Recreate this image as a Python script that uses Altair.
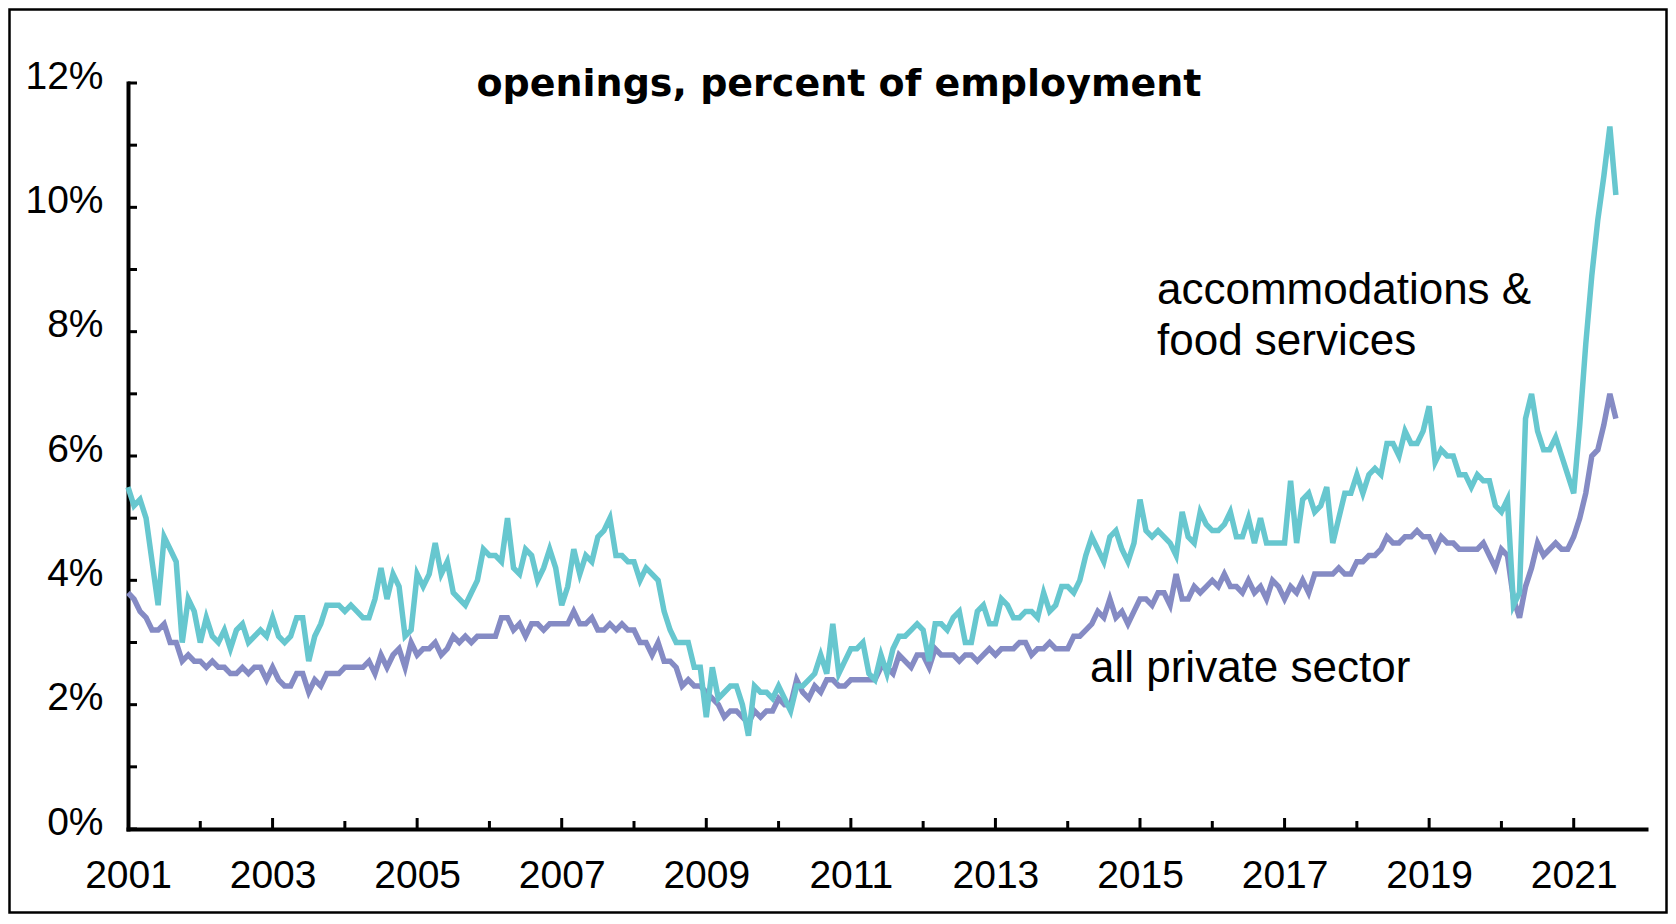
import altair as alt
import pandas as pd

# monthly openings rate, Jan 2001 .. Aug 2021 (percent of employment)
start_year = 2001

accommodation_food = [
    5.5, 5.2, 5.3, 5.0, 4.3, 3.6, 4.7, 4.5, 4.3, 3.0, 3.7, 3.5,  # 2001
    3.0, 3.4, 3.1, 3.0, 3.2, 2.9, 3.2, 3.3, 3.0, 3.1, 3.2, 3.1,  # 2002
    3.4, 3.1, 3.0, 3.1, 3.4, 3.4, 2.7, 3.1, 3.3, 3.6, 3.6, 3.6,  # 2003
    3.5, 3.6, 3.5, 3.4, 3.4, 3.7, 4.2, 3.7, 4.1, 3.9, 3.1, 3.2,  # 2004
    4.1, 3.9, 4.1, 4.6, 4.1, 4.3, 3.8, 3.7, 3.6, 3.8, 4.0, 4.5,  # 2005
    4.4, 4.4, 4.3, 5.0, 4.2, 4.1, 4.5, 4.4, 4.0, 4.2, 4.5, 4.2,  # 2006
    3.6, 3.9, 4.5, 4.1, 4.4, 4.3, 4.7, 4.8, 5.0, 4.4, 4.4, 4.3,  # 2007
    4.3, 4.0, 4.2, 4.1, 4.0, 3.5, 3.2, 3.0, 3.0, 3.0, 2.6, 2.6,  # 2008
    1.8, 2.6, 2.1, 2.2, 2.3, 2.3, 2.0, 1.5, 2.3, 2.2, 2.2, 2.1,  # 2009
    2.3, 2.1, 1.9, 2.3, 2.3, 2.4, 2.5, 2.8, 2.5, 3.3, 2.5, 2.7,  # 2010
    2.9, 2.9, 3.0, 2.5, 2.4, 2.8, 2.5, 2.9, 3.1, 3.1, 3.2, 3.3,  # 2011
    3.2, 2.7, 3.3, 3.3, 3.2, 3.4, 3.5, 3.0, 3.0, 3.5, 3.6, 3.3,  # 2012
    3.3, 3.7, 3.6, 3.4, 3.4, 3.5, 3.5, 3.4, 3.8, 3.5, 3.6, 3.9,  # 2013
    3.9, 3.8, 4.0, 4.4, 4.7, 4.5, 4.3, 4.7, 4.8, 4.5, 4.3, 4.6,  # 2014
    5.3, 4.8, 4.7, 4.8, 4.7, 4.6, 4.4, 5.1, 4.7, 4.6, 5.1, 4.9,  # 2015
    4.8, 4.8, 4.9, 5.1, 4.7, 4.7, 5.0, 4.6, 5.0, 4.6, 4.6, 4.6,  # 2016
    4.6, 5.6, 4.6, 5.3, 5.4, 5.1, 5.2, 5.5, 4.6, 5.0, 5.4, 5.4,  # 2017
    5.7, 5.4, 5.7, 5.8, 5.7, 6.2, 6.2, 6.0, 6.4, 6.2, 6.2, 6.4,  # 2018
    6.8, 5.9, 6.1, 6.0, 6.0, 5.7, 5.7, 5.5, 5.7, 5.6, 5.6, 5.2,  # 2019
    5.1, 5.3, 3.6, 3.8, 6.6, 7.0, 6.4, 6.1, 6.1, 6.3, 6.0, 5.7,  # 2020
    5.4, 6.5, 7.8, 8.9, 9.8, 10.5, 11.3, 10.2,                   # 2021
]

private_sector = [
    3.8, 3.7, 3.5, 3.4, 3.2, 3.2, 3.3, 3.0, 3.0, 2.7, 2.8, 2.7,  # 2001
    2.7, 2.6, 2.7, 2.6, 2.6, 2.5, 2.5, 2.6, 2.5, 2.6, 2.6, 2.4,  # 2002
    2.6, 2.4, 2.3, 2.3, 2.5, 2.5, 2.2, 2.4, 2.3, 2.5, 2.5, 2.5,  # 2003
    2.6, 2.6, 2.6, 2.6, 2.7, 2.5, 2.8, 2.6, 2.8, 2.9, 2.6, 3.0,  # 2004
    2.8, 2.9, 2.9, 3.0, 2.8, 2.9, 3.1, 3.0, 3.1, 3.0, 3.1, 3.1,  # 2005
    3.1, 3.1, 3.4, 3.4, 3.2, 3.3, 3.1, 3.3, 3.3, 3.2, 3.3, 3.3,  # 2006
    3.3, 3.3, 3.5, 3.3, 3.3, 3.4, 3.2, 3.2, 3.3, 3.2, 3.3, 3.2,  # 2007
    3.2, 3.0, 3.0, 2.8, 3.0, 2.7, 2.7, 2.6, 2.3, 2.4, 2.3, 2.3,  # 2008
    2.2, 2.1, 2.0, 1.8, 1.9, 1.9, 1.8, 1.7, 1.9, 1.8, 1.9, 1.9,  # 2009
    2.1, 2.0, 2.0, 2.4, 2.2, 2.1, 2.3, 2.2, 2.4, 2.4, 2.3, 2.3,  # 2010
    2.4, 2.4, 2.4, 2.4, 2.4, 2.6, 2.6, 2.5, 2.8, 2.7, 2.6, 2.8,  # 2011
    2.8, 2.6, 2.9, 2.8, 2.8, 2.8, 2.7, 2.8, 2.8, 2.7, 2.8, 2.9,  # 2012
    2.8, 2.9, 2.9, 2.9, 3.0, 3.0, 2.8, 2.9, 2.9, 3.0, 2.9, 2.9,  # 2013
    2.9, 3.1, 3.1, 3.2, 3.3, 3.5, 3.4, 3.7, 3.4, 3.5, 3.3, 3.5,  # 2014
    3.7, 3.7, 3.6, 3.8, 3.8, 3.6, 4.1, 3.7, 3.7, 3.9, 3.8, 3.9,  # 2015
    4.0, 3.9, 4.1, 3.9, 3.9, 3.8, 4.0, 3.8, 3.9, 3.7, 4.0, 3.9,  # 2016
    3.7, 3.9, 3.8, 4.0, 3.8, 4.1, 4.1, 4.1, 4.1, 4.2, 4.1, 4.1,  # 2017
    4.3, 4.3, 4.4, 4.4, 4.5, 4.7, 4.6, 4.6, 4.7, 4.7, 4.8, 4.7,  # 2018
    4.7, 4.5, 4.7, 4.6, 4.6, 4.5, 4.5, 4.5, 4.5, 4.6, 4.4, 4.2,  # 2019
    4.5, 4.4, 3.7, 3.4, 3.9, 4.2, 4.6, 4.4, 4.5, 4.6, 4.5, 4.5,  # 2020
    4.7, 5.0, 5.4, 6.0, 6.1, 6.5, 7.0, 6.6,                      # 2021
]

year_labels = list(range(2001, 2022, 2))
major_year_ticks = list(range(2003, 2022, 2))
minor_year_ticks = list(range(2002, 2022, 2))
pct_labels = list(range(0, 13, 2))
pct_ticks = list(range(0, 13))

title_text = "openings, percent of employment"
label_acc = ["accommodations &", "food services"]
label_private = "all private sector"

TEAL = "#67c7cf"
PURPLE = "#858bc4"
W, H = 1518, 746

months = [start_year + i / 12 for i in range(len(private_sector))]
df_private = pd.DataFrame({"t": months, "v": private_sector})
df_acc = pd.DataFrame({"t": months, "v": accommodation_food})
one = pd.DataFrame({"k": [0]})

x_scale = alt.Scale(domain=[2001, 2022], nice=False, zero=False)
y_scale = alt.Scale(domain=[0, 12], nice=False)

x_axis = alt.Axis(
    values=year_labels, format="d", title=None, grid=False, ticks=False,
    domainColor="black", domainWidth=4, domainCap="square",
    labelFont="Liberation Sans", labelFontSize=39, labelColor="black",
    labelBaseline="alphabetic", labelPadding=58, labelFlush=False, labelOverlap=False,
)
y_axis = alt.Axis(
    values=pct_labels, labelExpr="datum.value + '%'", title=None, grid=False, ticks=False,
    domainColor="black", domainWidth=4, domainCap="square",
    labelFont="Liberation Sans", labelFontSize=39, labelColor="black",
    labelBaseline="alphabetic", labelAlign="right", labelPadding=25, labelOffset=5,
)

private_line = alt.Chart(df_private).mark_line(color=PURPLE, strokeWidth=5.5).encode(
    x=alt.X("t:Q", scale=x_scale, axis=x_axis),
    y=alt.Y("v:Q", scale=y_scale, axis=y_axis),
)
acc_line = alt.Chart(df_acc).mark_line(color=TEAL, strokeWidth=5.5).encode(
    x=alt.X("t:Q", scale=x_scale),
    y=alt.Y("v:Q", scale=y_scale),
)

major_ticks = alt.Chart(pd.DataFrame({"year": major_year_ticks})).mark_rule(color="black", strokeWidth=3).encode(
    x=alt.X("year:Q", scale=x_scale), y=alt.value(H), y2=alt.value(H - 11)
)
minor_ticks = alt.Chart(pd.DataFrame({"year": minor_year_ticks})).mark_rule(color="black", strokeWidth=3).encode(
    x=alt.X("year:Q", scale=x_scale), y=alt.value(H), y2=alt.value(H - 8)
)
y_ticks = alt.Chart(pd.DataFrame({"pct": pct_ticks})).mark_rule(color="black", strokeWidth=3).encode(
    y=alt.Y("pct:Q", scale=y_scale), x=alt.value(0), x2=alt.value(9)
)

title = alt.Chart(one).mark_text(
    text=title_text, font="DejaVu Sans", fontWeight="bold", fontSize=38,
    align="center", baseline="alphabetic", color="black",
).encode(x=alt.value(711), y=alt.value(13))

text_style = dict(font="Liberation Sans", fontSize=44, align="left", baseline="alphabetic", color="black")
acc_text1 = alt.Chart(one).mark_text(text=label_acc[0], **text_style).encode(x=alt.value(1029), y=alt.value(221))
acc_text2 = alt.Chart(one).mark_text(text=label_acc[1], **text_style).encode(x=alt.value(1029), y=alt.value(272))
private_text = alt.Chart(one).mark_text(text=label_private, **text_style).encode(x=alt.value(962), y=alt.value(599))

frame = alt.Chart(one).mark_rect(fillOpacity=0, stroke="black", strokeWidth=2.5).encode(
    x=alt.value(-118.5), x2=alt.value(W + 20.5), y=alt.value(-73.5), y2=alt.value(H + 83.5)
)

chart = alt.layer(
    private_line, acc_line, major_ticks, minor_ticks, y_ticks,
    title, acc_text1, acc_text2, private_text, frame,
).properties(
    width=W, height=H,
    autosize=alt.AutoSizeParams(type="none"),
    padding={"left": 120, "top": 75, "right": 22, "bottom": 85},
    background="white",
).configure_view(stroke=None)

chart.save("out.html", embed_options={"renderer": "svg", "actions": False})
